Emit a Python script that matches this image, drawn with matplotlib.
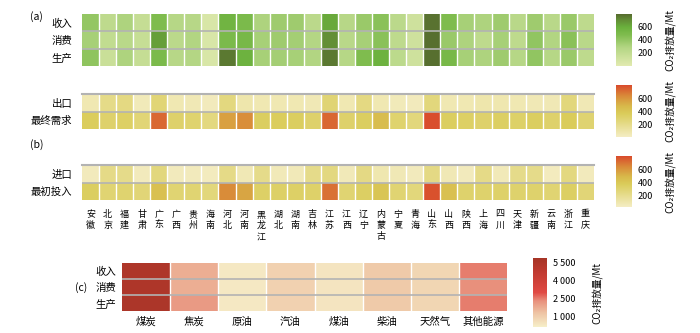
import numpy as np
import matplotlib
matplotlib.use('Agg')
import matplotlib.pyplot as plt
from matplotlib.colors import LinearSegmentedColormap

plt.rcParams['font.family'] = ['Noto Sans CJK SC', 'DejaVu Sans']

# ---- data ----
provinces = ['安徽', '北京', '福建', '甘肃', '广东', '广西', '贵州', '海南', '河北', '河南',
             '黑龙江', '湖北', '湖南', '吉林', '江苏', '江西', '辽宁', '内蒙古', '宁夏', '青海',
             '山东', '山西', '陕西', '上海', '四川', '天津', '新疆', '云南', '浙江', '重庆']

rows_a = ['收入', '消费', '生产']
income = [400, 220, 300, 180, 480, 270, 260, 60, 560, 500, 300, 360, 360, 240, 620, 260, 380,
          440, 240, 120, 780, 480, 330, 300, 360, 250, 360, 250, 380, 220]
consumption = [330, 200, 250, 170, 650, 240, 290, 60, 500, 520, 330, 360, 340, 280, 700, 250, 330,
               440, 220, 120, 790, 380, 300, 220, 330, 220, 410, 290, 440, 250]
production = [420, 150, 300, 180, 500, 260, 280, 60, 760, 580, 330, 340, 330, 290, 760, 270, 480,
              580, 230, 120, 790, 520, 330, 300, 360, 270, 410, 270, 380, 220]

rows_a2 = ['出口', '最终需求']
export = [60, 200, 220, 40, 260, 60, 50, 30, 230, 80, 60, 60, 60, 50, 270, 60, 220,
          60, 40, 30, 240, 60, 60, 80, 70, 60, 50, 50, 240, 50]
final_demand = [350, 300, 320, 260, 720, 300, 290, 230, 560, 620, 340, 350, 340, 300, 720, 300, 340,
                450, 290, 240, 790, 340, 320, 300, 330, 310, 340, 300, 360, 280]

rows_b = ['进口', '最初投入']
imports = [60, 230, 220, 60, 260, 60, 60, 50, 230, 80, 220, 70, 70, 220, 250, 70, 240,
           100, 80, 60, 240, 80, 60, 230, 70, 220, 220, 50, 250, 60]
primary_input = [360, 300, 310, 280, 450, 300, 300, 270, 640, 560, 340, 340, 340, 330, 710, 300, 350,
                 420, 300, 270, 790, 450, 320, 320, 330, 320, 320, 300, 350, 280]

fuels = ['煤炭', '焦炭', '原油', '汽油', '煤油', '柴油', '天然气', '其他能源']
rows_c = ['收入', '消费', '生产']
fuel_income = [5500, 1700, 300, 900, 400, 1100, 800, 2500]
fuel_consumption = [5500, 1700, 300, 900, 400, 1100, 800, 2300]
fuel_production = [5600, 2100, 300, 900, 400, 1100, 800, 2500]

# ---- colormaps ----
cmap_green = LinearSegmentedColormap.from_list('g', [
    (0.0, '#e2eab0'), (0.35, '#b4d684'), (0.6, '#7fbc4e'),
    (0.75, '#6ab03c'), (0.88, '#638f36'), (1.0, '#566b2e')])
cmap_yellow = LinearSegmentedColormap.from_list('y', [
    (0.0, '#f4edc4'), (0.3, '#e2d77c'), (0.45, '#dacc5a'), (0.6, '#d8b84a'),
    (0.8, '#d98838'), (1.0, '#d94a2c')])
cmap_red = LinearSegmentedColormap.from_list('r', [
    (0.0, '#f6efc9'), (0.2, '#eec4a4'), (0.38, '#e8907c'), (0.5, '#e04a44'),
    (0.8, '#c03a30'), (1.0, '#a53426')])

fig = plt.figure(figsize=(7, 3.33), dpi=100)


def heat(rect, data, rows, cmap, vmin, vmax, top_line, ypad=7):
    ax = fig.add_axes(rect)
    arr = np.array(data)
    mesh = ax.pcolormesh(arr, cmap=cmap, vmin=vmin, vmax=vmax)
    ax.set_xlim(0, arr.shape[1])
    ax.set_ylim(arr.shape[0], 0)
    for x in range(1, arr.shape[1]):
        ax.axvline(x, color='white', lw=1.0)
    for y in range(1, arr.shape[0]):
        ax.axhline(y, color='#b3b3b3', lw=1.2)
    if top_line:
        ax.axhline(0, color='#b3b3b3', lw=1.5, clip_on=False)
    ax.set_yticks(np.arange(arr.shape[0]) + 0.5)
    ax.set_yticklabels(rows, fontsize=7.5)
    ax.set_xticks([])
    ax.tick_params(length=0, pad=ypad)
    for s in ax.spines.values():
        s.set_visible(False)
    return ax, mesh


def cbar(rect, mesh, ticks, labels, pad):
    cax = fig.add_axes(rect)
    cb = fig.colorbar(mesh, cax=cax)
    cb.outline.set_visible(False)
    cb.set_ticks(ticks)
    cb.set_ticklabels(labels)
    cax.tick_params(length=0, labelsize=6.5, pad=4)
    cb.set_label('CO₂排放量/Mt', fontsize=7, labelpad=pad)
    return cb


ax1, m1 = heat([0.1171, 0.8018, 0.7314, 0.1562], [income, consumption, production],
               rows_a, cmap_green, 0, 800, False)
ax2, m2 = heat([0.1171, 0.6126, 0.7314, 0.1051], [export, final_demand],
               rows_a2, cmap_yellow, 0, 800, True)
ax3, m3 = heat([0.1171, 0.3994, 0.7314, 0.1051], [imports, primary_input],
               rows_b, cmap_yellow, 30, 810, True)
ax3.set_xticks(np.arange(len(provinces)) + 0.5)
ax3.set_xticklabels(['\n'.join(p) for p in provinces], fontsize=6.5, linespacing=1.3, va='top')
ax3.tick_params(axis='x', pad=7)

ax4, m4 = heat([0.1743, 0.0661, 0.55, 0.1441], [fuel_income, fuel_consumption, fuel_production],
               rows_c, cmap_red, 100, 5900, False, ypad=4)
ax4.set_xticks(np.arange(len(fuels)) + 0.5)
ax4.set_xticklabels(fuels, fontsize=7.5)
ax4.tick_params(axis='x', pad=4)

cbar([0.88, 0.8018, 0.0229, 0.1562], m1, [200, 400, 600], ['200', '400', '600'], 8)
cbar([0.88, 0.5886, 0.0229, 0.156], m2, [200, 400, 600], ['200', '400', '600'], 8)
cbar([0.88, 0.3784, 0.0229, 0.153], m3, [200, 400, 600], ['200', '400', '600'], 8)
cbar([0.7614, 0.018, 0.02, 0.207], m4, [1000, 2500, 4000, 5500],
     ['1 000', '2 500', '4 000', '5 500'], 12)

fig.text(30 / 700, 1 - 17 / 333, '(a)', fontsize=7.5, ha='left', va='center')
fig.text(30 / 700, 1 - 145 / 333, '(b)', fontsize=7.5, ha='left', va='center')
fig.text(75 / 700, 1 - 288 / 333, '(c)', fontsize=7.5, ha='left', va='center')

fig.savefig('out.png', dpi=100)
